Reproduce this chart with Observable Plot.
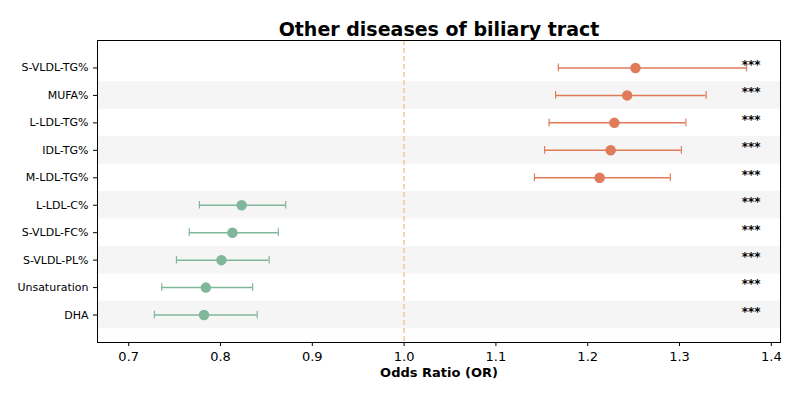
<!DOCTYPE html>
<html><head><meta charset="utf-8">
<script src="https://cdn.jsdelivr.net/npm/d3@7"></script>
<script src="https://cdn.jsdelivr.net/npm/@observablehq/plot@0.6"></script>
<style>body{margin:0;background:#fff;font-family:"DejaVu Sans",sans-serif}</style>
</head><body><div id="chart"></div>
<script>
const traits = ["S-VLDL-TG%","MUFA%","L-LDL-TG%","IDL-TG%","M-LDL-TG%","L-LDL-C%","S-VLDL-FC%","S-VLDL-PL%","Unsaturation","DHA"];
const or = [1.252,1.243,1.229,1.225,1.213,0.823,0.813,0.801,0.784,0.782];
const lo = [1.168,1.165,1.158,1.153,1.142,0.777,0.766,0.752,0.736,0.728];
const hi = [1.373,1.329,1.307,1.302,1.290,0.871,0.863,0.853,0.835,0.840];
const stars = ["***","***","***","***","***","***","***","***","***","***"];

const data = traits.map((t,i) => ({t, i, or: or[i], lo: lo[i], hi: hi[i], s: stars[i]}));
const col = d => d.or > 1 ? "#e07b5a" : "#80b79b";

const chart = Plot.plot({
  width: 800, height: 400,
  marginTop: 40, marginBottom: 58, marginLeft: 97, marginRight: 20,
  style: {fontFamily: "DejaVu Sans", fontSize: 11, color: "#000"},
  x: {domain: [0.666, 1.41]},
  y: {domain: [-1, 10], reverse: true},
  marks: [
    Plot.rect(data.filter(d => d.i % 2 == 1), {x1: 0.666, x2: 1.41, y1: d => d.i - 0.5, y2: d => d.i + 0.5, fill: "#f5f5f5"}),
    Plot.ruleX([1.0], {stroke: "#f0c987", strokeWidth: 1.5, strokeDasharray: "5,3"}),
    Plot.ruleY(data, {y: "i", x1: "lo", x2: "hi", stroke: col, strokeWidth: 1.5}),
    Plot.ruleX(data, {x: "lo", y1: d => d.i - 0.14, y2: d => d.i + 0.14, stroke: col, strokeWidth: 1.2}),
    Plot.ruleX(data, {x: "hi", y1: d => d.i - 0.14, y2: d => d.i + 0.14, stroke: col, strokeWidth: 1.2}),
    Plot.dot(data, {x: "or", y: "i", r: 4.5, fill: col, stroke: col}),
    Plot.text(data, {x: 1.378, y: "i", text: "s", fontWeight: "bold", fontSize: 12, dy: -3}),
    Plot.frame({stroke: "#000"}),
    Plot.axisX({ticks: [0.7,0.8,0.9,1.0,1.1,1.2,1.3,1.4], tickFormat: d3.format(".1f"), fontSize: 13, tickSize: 4, label: null}),
    Plot.axisY({ticks: d3.range(10), tickFormat: i => traits[i], fontSize: 11, tickSize: 4, label: null}),
    Plot.text(["Odds Ratio (OR)"], {frameAnchor: "bottom", dy: 34, fontWeight: "bold", fontSize: 13}),
    Plot.text(["Other diseases of biliary tract"], {frameAnchor: "top", dy: -18, fontWeight: "bold", fontSize: 19})
  ]
});
d3.select("#chart").append(() => chart);
</script></body></html>
